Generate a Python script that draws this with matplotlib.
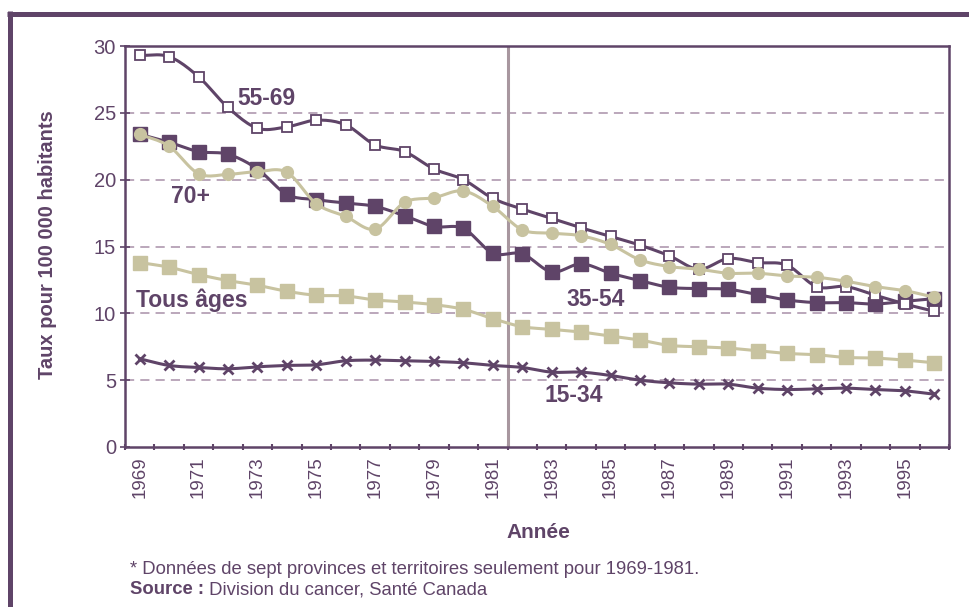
import matplotlib
matplotlib.use('Agg')
import matplotlib.pyplot as plt
from matplotlib.lines import Line2D
import numpy as np

plt.rcParams['font.family'] = ['Liberation Sans', 'DejaVu Sans']

years = list(range(1969, 1997))
tick_labels = [str(y) if y % 2 == 1 else '' for y in years]

ages_55_69 = [29.3, 29.2, 27.7, 25.4, 23.85, 23.95, 24.45, 24.1, 22.6, 22.1,
              20.8, 20.0, 18.6, 17.8, 17.1, 16.4, 15.75, 15.1, 14.3, 13.3,
              14.1, 13.8, 13.6, 12.0, 12.0, 11.35, 10.7, 10.15]
ages_70_plus = [23.4, 22.5, 20.45, 20.4, 20.6, 20.55, 18.2, 17.25, 16.3, 18.3,
                18.65, 19.15, 18.0, 16.25, 16.0, 15.8, 15.15, 14.0, 13.5, 13.3,
                13.0, 13.0, 12.8, 12.7, 12.4, 12.0, 11.7, 11.2]
ages_35_54 = [23.4, 22.8, 22.1, 21.9, 20.8, 18.9, 18.5, 18.25, 18.0, 17.3,
              16.5, 16.35, 14.5, 14.45, 13.1, 13.7, 13.0, 12.45, 11.95, 11.85,
              11.8, 11.4, 11.0, 10.8, 10.8, 10.7, 10.9, 11.1]
tous_ages = [13.8, 13.45, 12.9, 12.45, 12.1, 11.65, 11.35, 11.3, 11.0, 10.85,
             10.65, 10.3, 9.6, 9.0, 8.8, 8.6, 8.3, 8.0, 7.6, 7.5,
             7.4, 7.2, 7.0, 6.9, 6.7, 6.65, 6.5, 6.3]
ages_15_34 = [6.6, 6.1, 5.95, 5.85, 6.0, 6.1, 6.15, 6.45, 6.5, 6.45,
              6.4, 6.3, 6.1, 5.95, 5.6, 5.6, 5.35, 5.0, 4.8, 4.7,
              4.7, 4.4, 4.3, 4.35, 4.4, 4.3, 4.2, 3.95]

purple = '#5f4468'
beige = '#c8c3a0'
grid_col = '#a890a8'


def smooth(x, y, n=12):
    # catmull-rom curve through the points, like Excel's smoothed line
    x = np.asarray(x, float); y = np.asarray(y, float)
    px = np.concatenate([[2*x[0]-x[1]], x, [2*x[-1]-x[-2]]])
    py = np.concatenate([[2*y[0]-y[1]], y, [2*y[-1]-y[-2]]])
    xs = []; ys = []
    t = np.linspace(0, 1, n, endpoint=False)
    for i in range(1, len(px)-2):
        for arr, out in ((px, xs), (py, ys)):
            p0, p1, p2, p3 = arr[i-1], arr[i], arr[i+1], arr[i+2]
            out.extend(0.5*((2*p1) + (-p0+p2)*t + (2*p0-5*p1+4*p2-p3)*t**2
                            + (-p0+3*p1-3*p2+p3)*t**3))
    xs.append(x[-1]); ys.append(y[-1])
    return xs, ys


fig = plt.figure(figsize=(9.7, 6.07), dpi=100)
ax = fig.add_axes([125/970, 1-447/607, (949-125)/970, (447-46)/607])

idx = np.arange(len(years))

series = [
    (ages_35_54, purple, dict(marker='s', ms=10, mfc=purple, mec=purple)),
    (ages_55_69, purple, dict(marker='s', ms=7.5, mfc='white', mec=purple, mew=1.3)),
    (ages_70_plus, beige, dict(marker='o', ms=8.5, mfc=beige, mec=beige)),
    (tous_ages, beige, dict(marker='s', ms=9.5, mfc=beige, mec=beige)),
    (ages_15_34, purple, dict(marker='x', ms=7, mec=purple, mew=2)),
]
for k, (vals, col, mk) in enumerate(series):
    sx, sy = smooth(idx, vals)
    ax.plot(sx, sy, color=col, lw=2.2, zorder=3+k)
    ax.plot(idx, vals, ls='none', zorder=3+k, **mk)

ax.axvline(12.5, color='#a8979f', lw=2.2, zorder=2)

ax.set_xlim(-0.5, len(years)-0.5)
ax.set_ylim(0, 30)
ax.set_yticks(range(0, 31, 5))
for v in range(5, 30, 5):
    ax.axhline(v, color=grid_col, lw=1.1, ls=(0, (6, 4)), zorder=1)

ax.set_xticks(idx)
ax.set_xticklabels(tick_labels, rotation=90, fontsize=13.5, color=purple)
ax.set_xticks(np.arange(-0.5, len(years)), minor=True)
ax.tick_params(axis='x', which='major', length=0, pad=7)
ax.tick_params(axis='x', which='minor', length=4, width=1.5, color=purple, direction='inout')
ax.tick_params(axis='y', length=7, width=1.2, color=purple, direction='inout',
               labelsize=14.5, labelcolor=purple, pad=3)

for s in ax.spines.values():
    s.set_color(purple)
    s.set_linewidth(1.8)

lab = dict(fontsize=16.5, fontweight='bold', color=purple, ha='center', va='center', zorder=10)
ax.text(4.29, 26.1, '55-69', **lab)
ax.text(1.71, 18.75, '70+', **lab)
ax.text(1.77, 11.0, 'Tous âges', **lab)
ax.text(15.49, 11.03, '35-54', **lab)
ax.text(14.74, 3.83, '15-34', **lab)

fig.text(48/970, 1-245/607, 'Taux pour 100 000 habitants', rotation=90,
         ha='center', va='center', fontsize=14.5, fontweight='bold', color=purple)
fig.text(538/970, 1-533/607, 'Année', ha='center', va='center',
         fontsize=15, fontweight='bold', color=purple)
fig.text(130/970, 1-570/607, '* Données de sept provinces et territoires seulement pour 1969-1981.',
         ha='left', va='center', fontsize=13.3, color=purple)
src = fig.text(130/970, 1-590/607, 'Source :', ha='left', va='center',
               fontsize=13.3, fontweight='bold', color=purple)
ax.annotate(' Division du cancer, Santé Canada', xy=(1, 0.5), xycoords=src,
            ha='left', va='center', fontsize=13.3, color=purple, annotation_clip=False)

# outer frame
fig.add_artist(Line2D([7/970, 1], [1-13.5/607]*2, color=purple, lw=3.6,
                      transform=fig.transFigure, solid_capstyle='butt'))
fig.add_artist(Line2D([10/970]*2, [1-11/607, 0], color=purple, lw=3.6,
                      transform=fig.transFigure, solid_capstyle='butt'))

fig.savefig('out.png', dpi=100)
